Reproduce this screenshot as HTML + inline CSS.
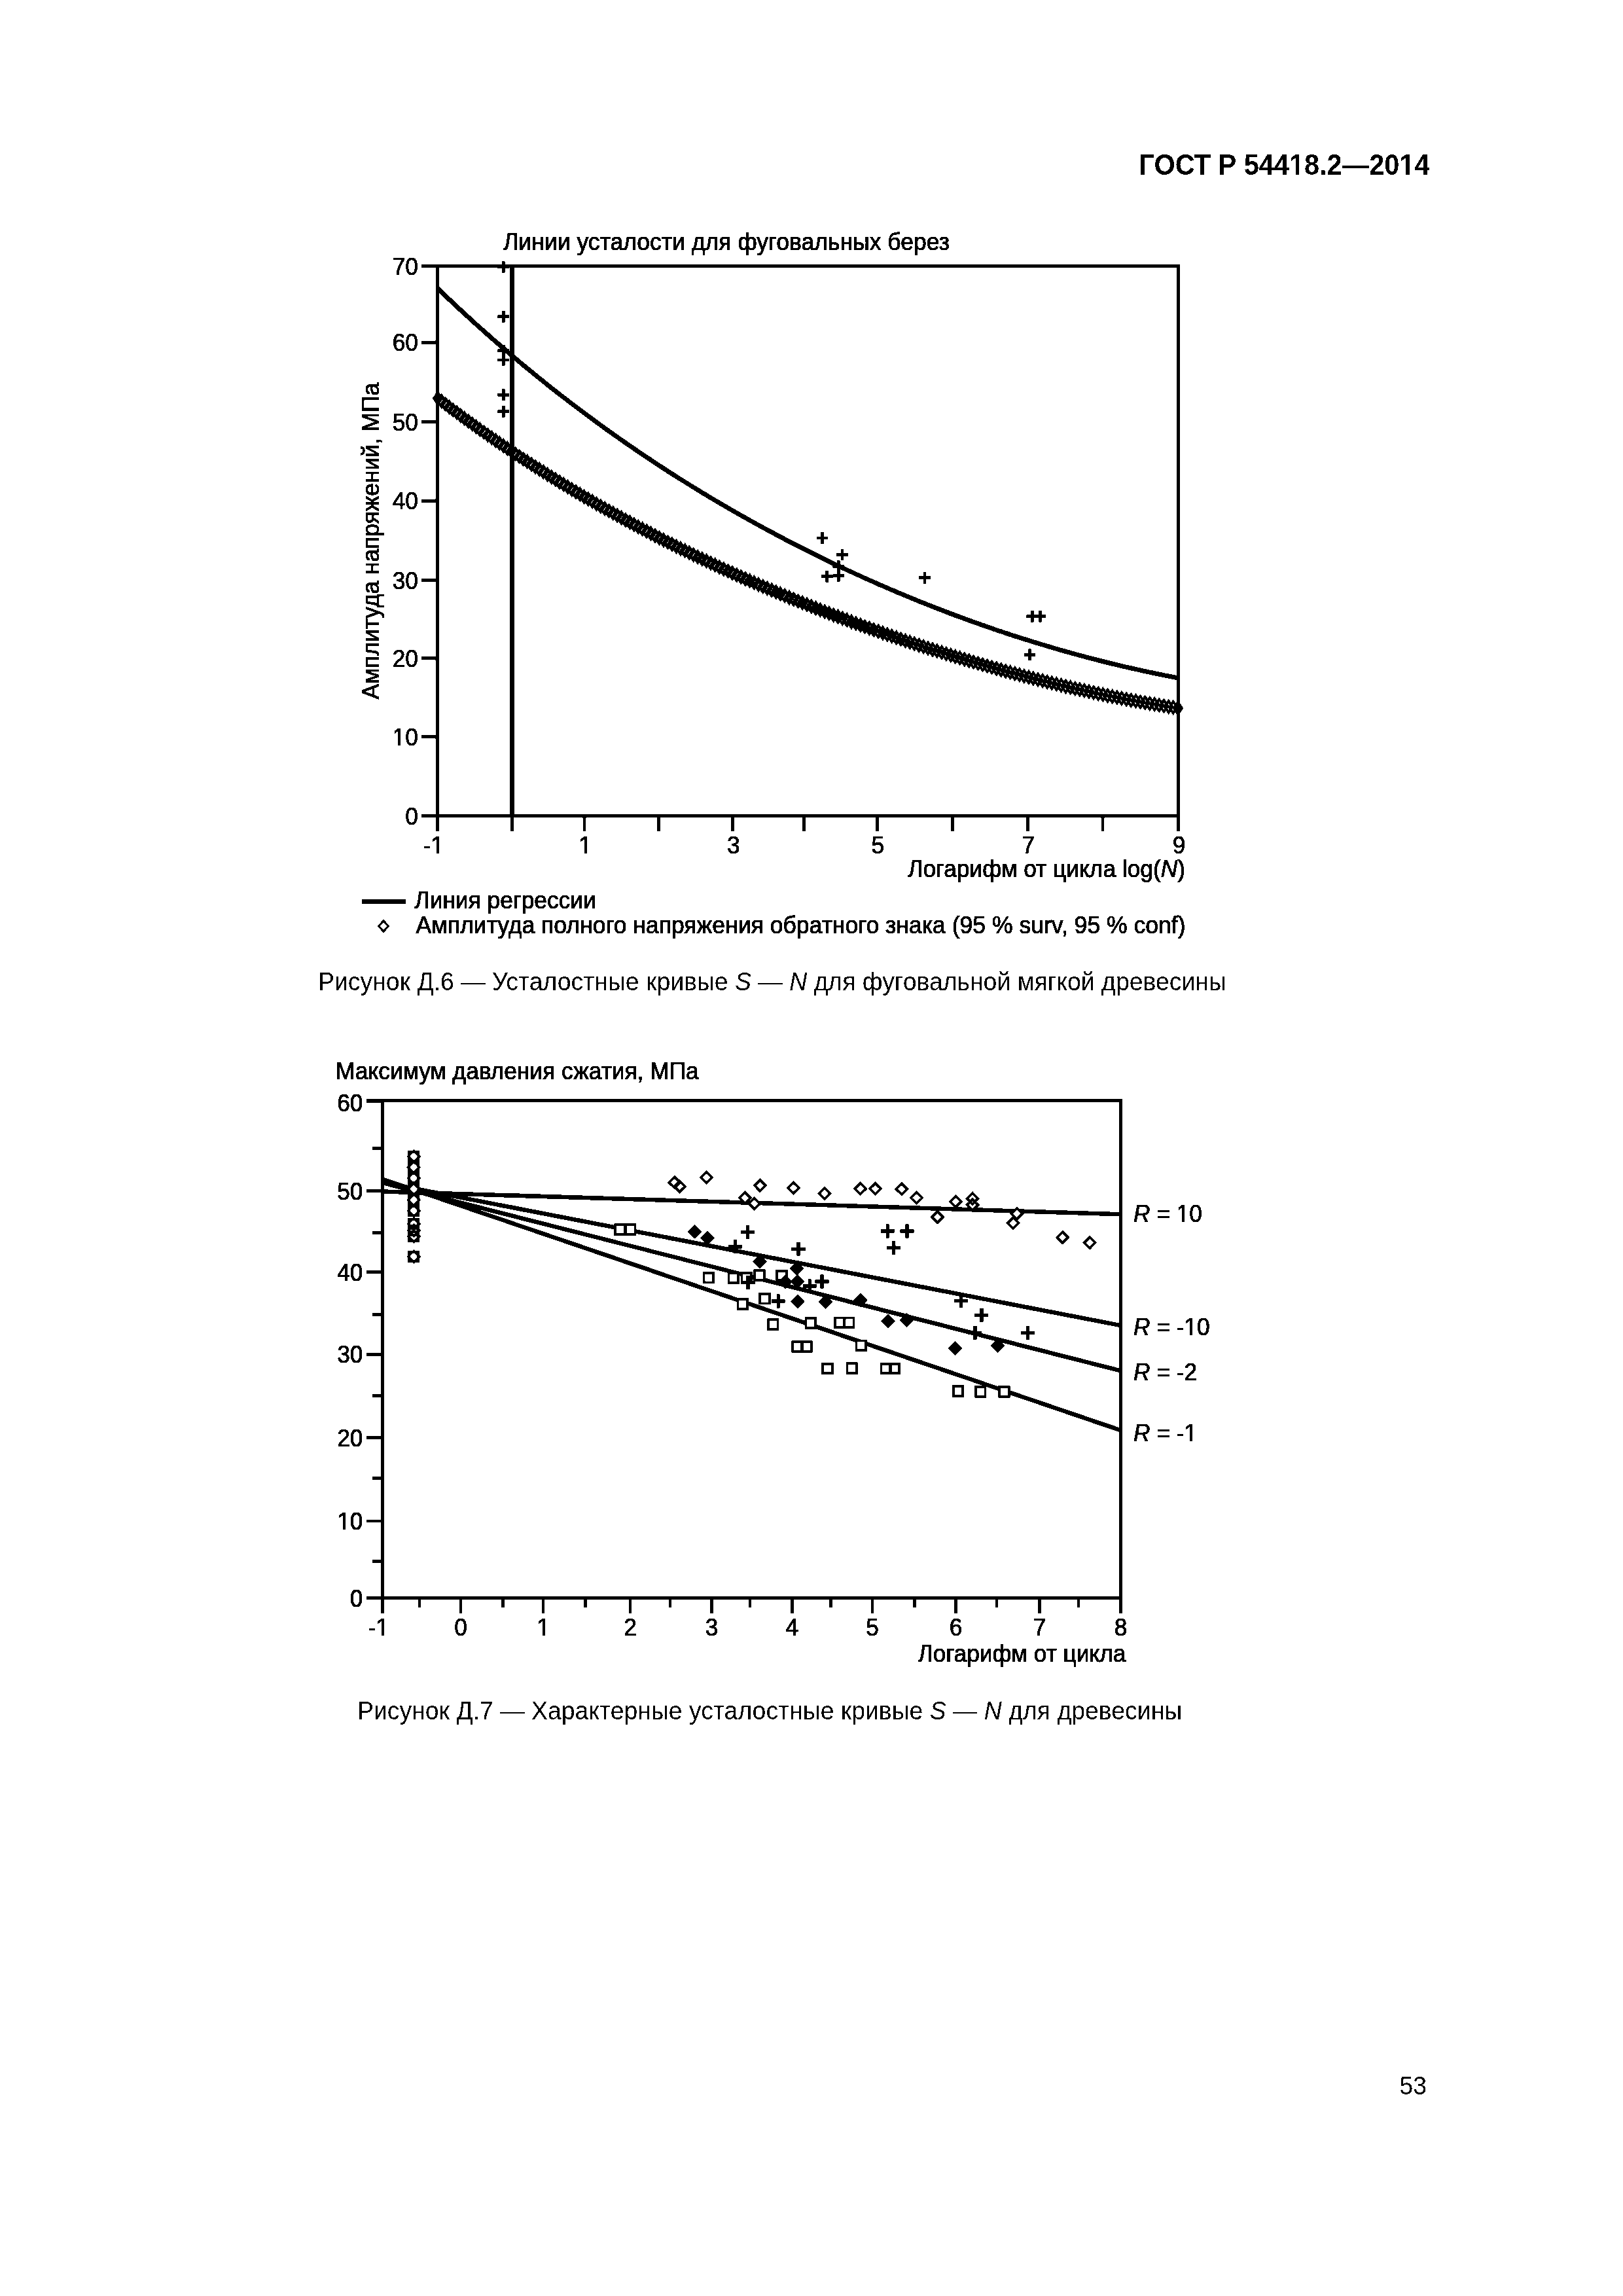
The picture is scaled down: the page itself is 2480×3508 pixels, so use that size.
<!DOCTYPE html>
<html><head><meta charset="utf-8"><style>
html,body{margin:0;padding:0;background:#fff;}
svg{display:block;}
text{font-family:"Liberation Sans", sans-serif;fill:#000;}
</style></head><body>
<svg width="2480" height="3508" viewBox="0 0 2480 3508">
<defs><filter id="bw" x="0" y="0" width="2480" height="3508" filterUnits="userSpaceOnUse" color-interpolation-filters="sRGB"><feComponentTransfer><feFuncR type="discrete" tableValues="0 1"/><feFuncG type="discrete" tableValues="0 1"/><feFuncB type="discrete" tableValues="0 1"/></feComponentTransfer></filter></defs>
<g filter="url(#bw)">
<rect width="2480" height="3508" fill="#fff"/>
<text transform="translate(2184.5,267.0) scale(1,1.07)" font-size="41.5" text-anchor="end" font-weight="bold" >ГОСТ Р 54418.2—2014</text><g transform="translate(2184.5,267.0) scale(1,1.07)"><rect x="-212.45" y="-4.74" width="7.52" height="5.24" fill="#fff"/><rect x="-199.14" y="-4.74" width="7.00" height="5.24" fill="#fff"/><rect x="-44.06" y="-4.74" width="7.52" height="5.24" fill="#fff"/><rect x="-30.74" y="-4.74" width="7.00" height="5.24" fill="#fff"/></g>
<g stroke="#000" stroke-linecap="butt" fill="none">
<line x1="668.2" y1="404.0" x2="668.2" y2="1270.0" stroke-width="5"/>
<line x1="1800.5" y1="404.0" x2="1800.5" y2="1270.0" stroke-width="4.6"/>
<line x1="644.0" y1="406.5" x2="1802.8" y2="406.5" stroke-width="5"/>
<line x1="644.0" y1="1246.8" x2="1802.8" y2="1246.8" stroke-width="5"/>
<line x1="644.0" y1="406.5" x2="668.2" y2="406.5" stroke-width="5"/>
<line x1="644.0" y1="523.1" x2="668.2" y2="523.1" stroke-width="5"/>
<line x1="644.0" y1="644.6" x2="668.2" y2="644.6" stroke-width="5"/>
<line x1="644.0" y1="765.1" x2="668.2" y2="765.1" stroke-width="5"/>
<line x1="644.0" y1="886.6" x2="668.2" y2="886.6" stroke-width="5"/>
<line x1="644.0" y1="1005.8" x2="668.2" y2="1005.8" stroke-width="5"/>
<line x1="644.0" y1="1125.8" x2="668.2" y2="1125.8" stroke-width="5"/>
<line x1="644.0" y1="1246.3" x2="668.2" y2="1246.3" stroke-width="5"/>
<line x1="782.3" y1="1246.8" x2="782.3" y2="1270.0" stroke-width="5"/>
<line x1="893.0" y1="1246.8" x2="893.0" y2="1270.0" stroke-width="5"/>
<line x1="1006.3" y1="1246.8" x2="1006.3" y2="1270.0" stroke-width="5"/>
<line x1="1119.7" y1="1246.8" x2="1119.7" y2="1270.0" stroke-width="5"/>
<line x1="1228.7" y1="1246.8" x2="1228.7" y2="1270.0" stroke-width="5"/>
<line x1="1340.2" y1="1246.8" x2="1340.2" y2="1270.0" stroke-width="5"/>
<line x1="1455.4" y1="1246.8" x2="1455.4" y2="1270.0" stroke-width="5"/>
<line x1="1570.3" y1="1246.8" x2="1570.3" y2="1270.0" stroke-width="5"/>
<line x1="1685.0" y1="1246.8" x2="1685.0" y2="1270.0" stroke-width="5"/>
<line x1="782.5" y1="406.5" x2="782.5" y2="1246.8" stroke-width="6.5"/>
</g>
<polyline points="669.0,440.9 673.0,444.7 677.0,448.5 681.0,452.3 685.0,456.1 689.0,459.9 693.0,463.7 697.0,467.4 701.0,471.1 705.0,474.9 709.0,478.6 713.0,482.2 717.0,485.9 721.0,489.5 725.0,493.2 729.0,496.8 733.0,500.4 737.0,503.9 741.0,507.5 745.0,511.0 749.0,514.6 753.0,518.1 757.0,521.6 761.0,525.0 765.0,528.5 769.0,531.9 773.0,535.4 777.0,538.8 781.0,542.2 785.0,545.6 789.0,548.9 793.0,552.3 797.0,555.6 801.0,559.0 805.0,562.3 809.0,565.6 813.0,568.8 817.0,572.1 821.0,575.3 825.0,578.6 829.0,581.8 833.0,585.0 837.0,588.2 841.0,591.4 845.0,594.5 849.0,597.7 853.0,600.8 857.0,603.9 861.0,607.0 865.0,610.1 869.0,613.2 873.0,616.2 877.0,619.3 881.0,622.3 885.0,625.3 889.0,628.3 893.0,631.3 897.0,634.3 901.0,637.3 905.0,640.2 909.0,643.2 913.0,646.1 917.0,649.0 921.0,651.9 925.0,654.8 929.0,657.7 933.0,660.5 937.0,663.4 941.0,666.2 945.0,669.0 949.0,671.8 953.0,674.6 957.0,677.4 961.0,680.1 965.0,682.9 969.0,685.6 973.0,688.4 977.0,691.1 981.0,693.8 985.0,696.5 989.0,699.2 993.0,701.8 997.0,704.5 1001.0,707.1 1005.0,709.8 1009.0,712.4 1013.0,715.0 1017.0,717.6 1021.0,720.2 1025.0,722.7 1029.0,725.3 1033.0,727.8 1037.0,730.4 1041.0,732.9 1045.0,735.4 1049.0,737.9 1053.0,740.4 1057.0,742.9 1061.0,745.4 1065.0,747.8 1069.0,750.2 1073.0,752.7 1077.0,755.1 1081.0,757.5 1085.0,759.9 1089.0,762.3 1093.0,764.7 1097.0,767.0 1101.0,769.4 1105.0,771.7 1109.0,774.1 1113.0,776.4 1117.0,778.7 1121.0,781.0 1125.0,783.3 1129.0,785.6 1133.0,787.8 1137.0,790.1 1141.0,792.3 1145.0,794.6 1149.0,796.8 1153.0,799.0 1157.0,801.2 1161.0,803.4 1165.0,805.6 1169.0,807.8 1173.0,809.9 1177.0,812.1 1181.0,814.2 1185.0,816.4 1189.0,818.5 1193.0,820.6 1197.0,822.7 1201.0,824.8 1205.0,826.9 1209.0,829.0 1213.0,831.0 1217.0,833.1 1221.0,835.1 1225.0,837.2 1229.0,839.2 1233.0,841.2 1237.0,843.2 1241.0,845.2 1245.0,847.2 1249.0,849.1 1253.0,851.1 1257.0,853.1 1261.0,855.0 1265.0,856.9 1269.0,858.9 1273.0,860.8 1277.0,862.7 1281.0,864.6 1285.0,866.5 1289.0,868.4 1293.0,870.2 1297.0,872.1 1301.0,873.9 1305.0,875.8 1309.0,877.6 1313.0,879.4 1317.0,881.3 1321.0,883.1 1325.0,884.9 1329.0,886.6 1333.0,888.4 1337.0,890.2 1341.0,892.0 1345.0,893.7 1349.0,895.4 1353.0,897.2 1357.0,898.9 1361.0,900.6 1365.0,902.3 1369.0,904.0 1373.0,905.7 1377.0,907.4 1381.0,909.0 1385.0,910.7 1389.0,912.4 1393.0,914.0 1397.0,915.6 1401.0,917.3 1405.0,918.9 1409.0,920.5 1413.0,922.1 1417.0,923.7 1421.0,925.3 1425.0,926.8 1429.0,928.4 1433.0,929.9 1437.0,931.5 1441.0,933.0 1445.0,934.6 1449.0,936.1 1453.0,937.6 1457.0,939.1 1461.0,940.6 1465.0,942.1 1469.0,943.5 1473.0,945.0 1477.0,946.5 1481.0,947.9 1485.0,949.4 1489.0,950.8 1493.0,952.2 1497.0,953.6 1501.0,955.0 1505.0,956.4 1509.0,957.8 1513.0,959.2 1517.0,960.6 1521.0,962.0 1525.0,963.3 1529.0,964.7 1533.0,966.0 1537.0,967.3 1541.0,968.6 1545.0,970.0 1549.0,971.3 1553.0,972.6 1557.0,973.8 1561.0,975.1 1565.0,976.4 1569.0,977.7 1573.0,978.9 1577.0,980.2 1581.0,981.4 1585.0,982.6 1589.0,983.8 1593.0,985.0 1597.0,986.2 1601.0,987.4 1605.0,988.6 1609.0,989.8 1613.0,991.0 1617.0,992.1 1621.0,993.3 1625.0,994.4 1629.0,995.6 1633.0,996.7 1637.0,997.8 1641.0,998.9 1645.0,1000.0 1649.0,1001.1 1653.0,1002.2 1657.0,1003.2 1661.0,1004.3 1665.0,1005.4 1669.0,1006.4 1673.0,1007.4 1677.0,1008.5 1681.0,1009.5 1685.0,1010.5 1689.0,1011.5 1693.0,1012.5 1697.0,1013.5 1701.0,1014.5 1705.0,1015.4 1709.0,1016.4 1713.0,1017.3 1717.0,1018.3 1721.0,1019.2 1725.0,1020.1 1729.0,1021.0 1733.0,1021.9 1737.0,1022.8 1741.0,1023.7 1745.0,1024.6 1749.0,1025.5 1753.0,1026.3 1757.0,1027.2 1761.0,1028.0 1765.0,1028.9 1769.0,1029.7 1773.0,1030.5 1777.0,1031.3 1781.0,1032.1 1785.0,1032.9 1789.0,1033.7 1793.0,1034.4 1797.0,1035.2 1802.5,1036.2" fill="none" stroke="#000" stroke-width="7" stroke-linejoin="round"/>
<path d="M669.0 599.9L675.0 608.7L669.0 617.5L663.0 608.7ZM674.8 604.3L680.8 613.1L674.8 621.9L668.8 613.1ZM680.6 608.7L686.6 617.5L680.6 626.3L674.6 617.5ZM686.4 613.1L692.4 621.9L686.4 630.7L680.4 621.9ZM692.2 617.5L698.2 626.3L692.2 635.1L686.2 626.3ZM698.1 621.8L704.1 630.6L698.1 639.4L692.1 630.6ZM703.9 626.2L709.9 635.0L703.9 643.8L697.9 635.0ZM709.8 630.5L715.8 639.3L709.8 648.1L703.8 639.3ZM715.7 634.7L721.7 643.5L715.7 652.3L709.7 643.5ZM721.6 639.0L727.6 647.8L721.6 656.6L715.6 647.8ZM727.5 643.3L733.5 652.1L727.5 660.9L721.5 652.1ZM733.4 647.5L739.4 656.3L733.4 665.1L727.4 656.3ZM739.4 651.7L745.4 660.5L739.4 669.3L733.4 660.5ZM745.3 655.9L751.3 664.7L745.3 673.5L739.3 664.7ZM751.3 660.0L757.3 668.8L751.3 677.6L745.3 668.8ZM757.3 664.2L763.3 673.0L757.3 681.8L751.3 673.0ZM763.3 668.3L769.3 677.1L763.3 685.9L757.3 677.1ZM769.3 672.4L775.3 681.2L769.3 690.0L763.3 681.2ZM775.4 676.5L781.4 685.3L775.4 694.1L769.4 685.3ZM781.4 680.5L787.4 689.3L781.4 698.1L775.4 689.3ZM787.5 684.6L793.5 693.4L787.5 702.2L781.5 693.4ZM793.6 688.6L799.6 697.4L793.6 706.2L787.6 697.4ZM799.6 692.6L805.6 701.4L799.6 710.2L793.6 701.4ZM805.7 696.5L811.7 705.3L805.7 714.1L799.7 705.3ZM811.9 700.5L817.9 709.3L811.9 718.1L805.9 709.3ZM818.0 704.4L824.0 713.2L818.0 722.0L812.0 713.2ZM824.1 708.3L830.1 717.1L824.1 725.9L818.1 717.1ZM830.3 712.2L836.3 721.0L830.3 729.8L824.3 721.0ZM836.5 716.1L842.5 724.9L836.5 733.7L830.5 724.9ZM842.6 720.0L848.6 728.8L842.6 737.6L836.6 728.8ZM848.8 723.8L854.8 732.6L848.8 741.4L842.8 732.6ZM855.0 727.6L861.0 736.4L855.0 745.2L849.0 736.4ZM861.3 731.4L867.3 740.2L861.3 749.0L855.3 740.2ZM867.5 735.2L873.5 744.0L867.5 752.8L861.5 744.0ZM873.7 738.9L879.7 747.7L873.7 756.5L867.7 747.7ZM880.0 742.6L886.0 751.4L880.0 760.2L874.0 751.4ZM886.3 746.3L892.3 755.1L886.3 763.9L880.3 755.1ZM892.5 750.0L898.5 758.8L892.5 767.6L886.5 758.8ZM898.8 753.7L904.8 762.5L898.8 771.3L892.8 762.5ZM905.1 757.3L911.1 766.1L905.1 774.9L899.1 766.1ZM911.4 761.0L917.4 769.8L911.4 778.6L905.4 769.8ZM917.8 764.6L923.8 773.4L917.8 782.2L911.8 773.4ZM924.1 768.2L930.1 777.0L924.1 785.8L918.1 777.0ZM930.5 771.7L936.5 780.5L930.5 789.3L924.5 780.5ZM936.8 775.3L942.8 784.1L936.8 792.9L930.8 784.1ZM943.2 778.8L949.2 787.6L943.2 796.4L937.2 787.6ZM949.6 782.3L955.6 791.1L949.6 799.9L943.6 791.1ZM956.0 785.8L962.0 794.6L956.0 803.4L950.0 794.6ZM962.4 789.3L968.4 798.1L962.4 806.9L956.4 798.1ZM968.8 792.7L974.8 801.5L968.8 810.3L962.8 801.5ZM975.2 796.1L981.2 804.9L975.2 813.7L969.2 804.9ZM981.6 799.5L987.6 808.3L981.6 817.1L975.6 808.3ZM988.1 802.9L994.1 811.7L988.1 820.5L982.1 811.7ZM994.6 806.3L1000.6 815.1L994.6 823.9L988.6 815.1ZM1001.0 809.6L1007.0 818.4L1001.0 827.2L995.0 818.4ZM1007.5 813.0L1013.5 821.8L1007.5 830.6L1001.5 821.8ZM1014.0 816.3L1020.0 825.1L1014.0 833.9L1008.0 825.1ZM1020.5 819.6L1026.5 828.4L1020.5 837.2L1014.5 828.4ZM1027.0 822.8L1033.0 831.6L1027.0 840.4L1021.0 831.6ZM1033.5 826.1L1039.5 834.9L1033.5 843.7L1027.5 834.9ZM1040.0 829.3L1046.0 838.1L1040.0 846.9L1034.0 838.1ZM1046.6 832.5L1052.6 841.3L1046.6 850.1L1040.6 841.3ZM1053.1 835.7L1059.1 844.5L1053.1 853.3L1047.1 844.5ZM1059.7 838.9L1065.7 847.7L1059.7 856.5L1053.7 847.7ZM1066.2 842.1L1072.2 850.9L1066.2 859.7L1060.2 850.9ZM1072.8 845.2L1078.8 854.0L1072.8 862.8L1066.8 854.0ZM1079.4 848.3L1085.4 857.1L1079.4 865.9L1073.4 857.1ZM1086.0 851.4L1092.0 860.2L1086.0 869.0L1080.0 860.2ZM1092.6 854.5L1098.6 863.3L1092.6 872.1L1086.6 863.3ZM1099.2 857.6L1105.2 866.4L1099.2 875.2L1093.2 866.4ZM1105.8 860.6L1111.8 869.4L1105.8 878.2L1099.8 869.4ZM1112.4 863.6L1118.4 872.4L1112.4 881.2L1106.4 872.4ZM1119.0 866.6L1125.0 875.4L1119.0 884.2L1113.0 875.4ZM1125.7 869.6L1131.7 878.4L1125.7 887.2L1119.7 878.4ZM1132.3 872.6L1138.3 881.4L1132.3 890.2L1126.3 881.4ZM1139.0 875.6L1145.0 884.4L1139.0 893.2L1133.0 884.4ZM1145.7 878.5L1151.7 887.3L1145.7 896.1L1139.7 887.3ZM1152.3 881.4L1158.3 890.2L1152.3 899.0L1146.3 890.2ZM1159.0 884.3L1165.0 893.1L1159.0 901.9L1153.0 893.1ZM1165.7 887.2L1171.7 896.0L1165.7 904.8L1159.7 896.0ZM1172.4 890.0L1178.4 898.8L1172.4 907.6L1166.4 898.8ZM1179.1 892.9L1185.1 901.7L1179.1 910.5L1173.1 901.7ZM1185.8 895.7L1191.8 904.5L1185.8 913.3L1179.8 904.5ZM1192.5 898.5L1198.5 907.3L1192.5 916.1L1186.5 907.3ZM1199.2 901.3L1205.2 910.1L1199.2 918.9L1193.2 910.1ZM1206.0 904.1L1212.0 912.9L1206.0 921.7L1200.0 912.9ZM1212.7 906.8L1218.7 915.6L1212.7 924.4L1206.7 915.6ZM1219.5 909.6L1225.5 918.4L1219.5 927.2L1213.5 918.4ZM1226.2 912.3L1232.2 921.1L1226.2 929.9L1220.2 921.1ZM1233.0 915.0L1239.0 923.8L1233.0 932.6L1227.0 923.8ZM1239.8 917.7L1245.8 926.5L1239.8 935.3L1233.8 926.5ZM1246.5 920.4L1252.5 929.2L1246.5 938.0L1240.5 929.2ZM1253.3 923.0L1259.3 931.8L1253.3 940.6L1247.3 931.8ZM1260.1 925.6L1266.1 934.4L1260.1 943.2L1254.1 934.4ZM1266.9 928.3L1272.9 937.1L1266.9 945.9L1260.9 937.1ZM1273.7 930.9L1279.7 939.7L1273.7 948.5L1267.7 939.7ZM1280.5 933.4L1286.5 942.2L1280.5 951.0L1274.5 942.2ZM1287.3 936.0L1293.3 944.8L1287.3 953.6L1281.3 944.8ZM1294.2 938.5L1300.2 947.3L1294.2 956.1L1288.2 947.3ZM1301.0 941.1L1307.0 949.9L1301.0 958.7L1295.0 949.9ZM1307.8 943.6L1313.8 952.4L1307.8 961.2L1301.8 952.4ZM1314.7 946.1L1320.7 954.9L1314.7 963.7L1308.7 954.9ZM1321.5 948.6L1327.5 957.4L1321.5 966.2L1315.5 957.4ZM1328.4 951.0L1334.4 959.8L1328.4 968.6L1322.4 959.8ZM1335.2 953.5L1341.2 962.3L1335.2 971.1L1329.2 962.3ZM1342.1 955.9L1348.1 964.7L1342.1 973.5L1336.1 964.7ZM1349.0 958.3L1355.0 967.1L1349.0 975.9L1343.0 967.1ZM1355.8 960.7L1361.8 969.5L1355.8 978.3L1349.8 969.5ZM1362.7 963.0L1368.7 971.8L1362.7 980.6L1356.7 971.8ZM1369.6 965.4L1375.6 974.2L1369.6 983.0L1363.6 974.2ZM1376.5 967.7L1382.5 976.5L1376.5 985.3L1370.5 976.5ZM1383.4 970.1L1389.4 978.9L1383.4 987.7L1377.4 978.9ZM1390.3 972.4L1396.3 981.2L1390.3 990.0L1384.3 981.2ZM1397.2 974.7L1403.2 983.5L1397.2 992.3L1391.2 983.5ZM1404.2 976.9L1410.2 985.7L1404.2 994.5L1398.2 985.7ZM1411.1 979.2L1417.1 988.0L1411.1 996.8L1405.1 988.0ZM1418.0 981.4L1424.0 990.2L1418.0 999.0L1412.0 990.2ZM1425.0 983.6L1431.0 992.4L1425.0 1001.2L1419.0 992.4ZM1431.9 985.8L1437.9 994.6L1431.9 1003.4L1425.9 994.6ZM1438.9 988.0L1444.9 996.8L1438.9 1005.6L1432.9 996.8ZM1445.8 990.2L1451.8 999.0L1445.8 1007.8L1439.8 999.0ZM1452.8 992.3L1458.8 1001.1L1452.8 1009.9L1446.8 1001.1ZM1459.7 994.4L1465.7 1003.2L1459.7 1012.0L1453.7 1003.2ZM1466.7 996.5L1472.7 1005.3L1466.7 1014.1L1460.7 1005.3ZM1473.7 998.6L1479.7 1007.4L1473.7 1016.2L1467.7 1007.4ZM1480.7 1000.7L1486.7 1009.5L1480.7 1018.3L1474.7 1009.5ZM1487.6 1002.8L1493.6 1011.6L1487.6 1020.4L1481.6 1011.6ZM1494.6 1004.8L1500.6 1013.6L1494.6 1022.4L1488.6 1013.6ZM1501.6 1006.8L1507.6 1015.6L1501.6 1024.4L1495.6 1015.6ZM1508.6 1008.8L1514.6 1017.6L1508.6 1026.4L1502.6 1017.6ZM1515.6 1010.8L1521.6 1019.6L1515.6 1028.4L1509.6 1019.6ZM1522.7 1012.7L1528.7 1021.5L1522.7 1030.3L1516.7 1021.5ZM1529.7 1014.7L1535.7 1023.5L1529.7 1032.3L1523.7 1023.5ZM1536.7 1016.6L1542.7 1025.4L1536.7 1034.2L1530.7 1025.4ZM1543.7 1018.5L1549.7 1027.3L1543.7 1036.1L1537.7 1027.3ZM1550.8 1020.4L1556.8 1029.2L1550.8 1038.0L1544.8 1029.2ZM1557.8 1022.3L1563.8 1031.1L1557.8 1039.9L1551.8 1031.1ZM1564.8 1024.1L1570.8 1032.9L1564.8 1041.7L1558.8 1032.9ZM1571.9 1025.9L1577.9 1034.7L1571.9 1043.5L1565.9 1034.7ZM1578.9 1027.8L1584.9 1036.6L1578.9 1045.4L1572.9 1036.6ZM1586.0 1029.5L1592.0 1038.3L1586.0 1047.1L1580.0 1038.3ZM1593.1 1031.3L1599.1 1040.1L1593.1 1048.9L1587.1 1040.1ZM1600.1 1033.1L1606.1 1041.9L1600.1 1050.7L1594.1 1041.9ZM1607.2 1034.8L1613.2 1043.6L1607.2 1052.4L1601.2 1043.6ZM1614.3 1036.5L1620.3 1045.3L1614.3 1054.1L1608.3 1045.3ZM1621.4 1038.2L1627.4 1047.0L1621.4 1055.8L1615.4 1047.0ZM1628.5 1039.9L1634.5 1048.7L1628.5 1057.5L1622.5 1048.7ZM1635.6 1041.5L1641.6 1050.3L1635.6 1059.1L1629.6 1050.3ZM1642.7 1043.1L1648.7 1051.9L1642.7 1060.7L1636.7 1051.9ZM1649.8 1044.7L1655.8 1053.5L1649.8 1062.3L1643.8 1053.5ZM1656.9 1046.3L1662.9 1055.1L1656.9 1063.9L1650.9 1055.1ZM1664.0 1047.9L1670.0 1056.7L1664.0 1065.5L1658.0 1056.7ZM1671.1 1049.4L1677.1 1058.2L1671.1 1067.0L1665.1 1058.2ZM1678.2 1050.9L1684.2 1059.7L1678.2 1068.5L1672.2 1059.7ZM1685.4 1052.4L1691.4 1061.2L1685.4 1070.0L1679.4 1061.2ZM1692.5 1053.9L1698.5 1062.7L1692.5 1071.5L1686.5 1062.7ZM1699.6 1055.4L1705.6 1064.2L1699.6 1073.0L1693.6 1064.2ZM1706.8 1056.8L1712.8 1065.6L1706.8 1074.4L1700.8 1065.6ZM1713.9 1058.2L1719.9 1067.0L1713.9 1075.8L1707.9 1067.0ZM1721.1 1059.6L1727.1 1068.4L1721.1 1077.2L1715.1 1068.4ZM1728.2 1060.9L1734.2 1069.7L1728.2 1078.5L1722.2 1069.7ZM1735.4 1062.3L1741.4 1071.1L1735.4 1079.9L1729.4 1071.1ZM1742.5 1063.6L1748.5 1072.4L1742.5 1081.2L1736.5 1072.4ZM1749.7 1064.8L1755.7 1073.6L1749.7 1082.4L1743.7 1073.6ZM1756.9 1066.1L1762.9 1074.9L1756.9 1083.7L1750.9 1074.9ZM1764.1 1067.3L1770.1 1076.1L1764.1 1084.9L1758.1 1076.1ZM1771.2 1068.5L1777.2 1077.3L1771.2 1086.1L1765.2 1077.3ZM1778.4 1069.7L1784.4 1078.5L1778.4 1087.3L1772.4 1078.5ZM1785.6 1070.9L1791.6 1079.7L1785.6 1088.5L1779.6 1079.7ZM1792.8 1072.0L1798.8 1080.8L1792.8 1089.6L1786.8 1080.8ZM1800.0 1073.1L1806.0 1081.9L1800.0 1090.7L1794.0 1081.9Z" fill="none" stroke="#000" stroke-width="3.9" stroke-linejoin="miter"/>
<path d="M760.5 408.0H778.0M769.2 399.2V416.8M760.5 483.7H778.0M769.2 474.9V492.4M760.5 535.9H778.0M769.2 527.1V544.6M760.5 550.0H778.0M769.2 541.2V558.8M760.5 603.3H778.0M769.2 594.5V612.0M760.5 628.6H778.0M769.2 619.9V637.4M1247.7 822.0H1265.2M1256.4 813.2V830.8M1278.2 847.5H1295.7M1286.9 838.8V856.2M1272.5 865.4H1290.0M1281.3 856.6V874.1M1255.0 880.7H1272.5M1263.8 872.0V889.5M1272.5 879.8H1290.0M1281.3 871.0V888.5M1404.3 882.6H1421.8M1413.1 873.9V891.4M1568.5 941.6H1586.0M1577.3 932.9V950.4M1580.8 941.6H1598.2M1589.5 932.9V950.4M1564.8 1000.1H1582.3M1573.6 991.4V1008.9" stroke="#000" stroke-width="4.6" fill="none"/>
<text transform="translate(639.0,419.7) scale(1,1.07)" font-size="35.3" text-anchor="end" font-weight="normal" stroke="#000" stroke-width="0.9" >70</text>
<text transform="translate(639.0,536.3) scale(1,1.07)" font-size="35.3" text-anchor="end" font-weight="normal" stroke="#000" stroke-width="0.9" >60</text>
<text transform="translate(639.0,657.8) scale(1,1.07)" font-size="35.3" text-anchor="end" font-weight="normal" stroke="#000" stroke-width="0.9" >50</text>
<text transform="translate(639.0,778.3) scale(1,1.07)" font-size="35.3" text-anchor="end" font-weight="normal" stroke="#000" stroke-width="0.9" >40</text>
<text transform="translate(639.0,899.8) scale(1,1.07)" font-size="35.3" text-anchor="end" font-weight="normal" stroke="#000" stroke-width="0.9" >30</text>
<text transform="translate(639.0,1019.0) scale(1,1.07)" font-size="35.3" text-anchor="end" font-weight="normal" stroke="#000" stroke-width="0.9" >20</text>
<text transform="translate(639.0,1139.0) scale(1,1.07)" font-size="35.3" text-anchor="end" font-weight="normal" stroke="#000" stroke-width="0.9" >10</text><g transform="translate(639.0,1139.0) scale(1,1.07)"><rect x="-37.52" y="-3.59" width="6.64" height="4.54" fill="#fff"/><rect x="-26.76" y="-3.59" width="6.36" height="4.54" fill="#fff"/></g>
<text transform="translate(639.0,1259.5) scale(1,1.07)" font-size="35.3" text-anchor="end" font-weight="normal" stroke="#000" stroke-width="0.9" >0</text>
<text transform="translate(662.2,1303.5) scale(1,1.07)" font-size="35.3" text-anchor="middle" font-weight="normal" stroke="#000" stroke-width="0.9" >-1</text><g transform="translate(662.2,1303.5) scale(1,1.07)"><rect x="-2.21" y="-3.59" width="6.64" height="4.54" fill="#fff"/><rect x="8.54" y="-3.59" width="6.36" height="4.54" fill="#fff"/></g>
<text transform="translate(894.0,1303.5) scale(1,1.07)" font-size="35.3" text-anchor="middle" font-weight="normal" stroke="#000" stroke-width="0.9" >1</text><g transform="translate(894.0,1303.5) scale(1,1.07)"><rect x="-8.08" y="-3.59" width="6.64" height="4.54" fill="#fff"/><rect x="2.68" y="-3.59" width="6.36" height="4.54" fill="#fff"/></g>
<text transform="translate(1120.7,1303.5) scale(1,1.07)" font-size="35.3" text-anchor="middle" font-weight="normal" stroke="#000" stroke-width="0.9" >3</text>
<text transform="translate(1341.2,1303.5) scale(1,1.07)" font-size="35.3" text-anchor="middle" font-weight="normal" stroke="#000" stroke-width="0.9" >5</text>
<text transform="translate(1571.3,1303.5) scale(1,1.07)" font-size="35.3" text-anchor="middle" font-weight="normal" stroke="#000" stroke-width="0.9" >7</text>
<text transform="translate(1801.5,1303.5) scale(1,1.07)" font-size="35.3" text-anchor="middle" font-weight="normal" stroke="#000" stroke-width="0.9" >9</text>
<text transform="translate(1811.0,1340.0) scale(1,1.05)" font-size="35.3" text-anchor="end" font-weight="normal" stroke="#000" stroke-width="0.9" >Логарифм от цикла log(<tspan font-style="italic">N</tspan>)</text>
<text transform="translate(769.0,381.7) scale(1,1.05)" font-size="35.56" text-anchor="start" font-weight="normal" stroke="#000" stroke-width="0.9" >Линии усталости для фуговальных берез</text>
<text transform="translate(579,1068.6) rotate(-90) scale(1,1.05)" font-size="35.35" stroke="#000" stroke-width="0.9">Амплитуда напряжений, МПа</text>
<g stroke="#000" fill="none">
<line x1="552.8" y1="1377.3" x2="620.0" y2="1377.3" stroke-width="6.5"/>
<path d="M586 1406.5L593 1415L586 1423.5L579 1415Z" stroke-width="3"/>
</g>
<text transform="translate(633.5,1388.3) scale(1,1.05)" font-size="35.3" text-anchor="start" font-weight="normal" stroke="#000" stroke-width="0.9" >Линия регрессии</text>
<text transform="translate(635.5,1426.0) scale(1,1.05)" font-size="35.55" text-anchor="start" font-weight="normal" stroke="#000" stroke-width="0.9" >Амплитуда полного напряжения обратного знака (95 % surv, 95 % conf)</text>
<text transform="translate(486.0,1513.1) scale(1,1.03)" font-size="37.4" text-anchor="start" font-weight="normal" >Рисунок Д.6 — Усталостные кривые <tspan font-style="italic">S</tspan> — <tspan font-style="italic">N</tspan> для фуговальной мягкой древесины</text>
<g stroke="#000" fill="none">
<line x1="584.5" y1="1679.6" x2="584.5" y2="2465.0" stroke-width="4.8"/>
<line x1="1712.5" y1="1679.6" x2="1712.5" y2="2465.0" stroke-width="4.6"/>
<line x1="560.0" y1="1681.9" x2="1714.8" y2="1681.9" stroke-width="4.6"/>
<line x1="560.0" y1="2441.4" x2="1714.8" y2="2441.4" stroke-width="5"/>
<line x1="560.0" y1="1681.9" x2="584.5" y2="1681.9" stroke-width="5"/>
<line x1="569.0" y1="1754.4" x2="584.5" y2="1754.4" stroke-width="5"/>
<line x1="560.0" y1="1819.5" x2="584.5" y2="1819.5" stroke-width="5"/>
<line x1="569.0" y1="1883.8" x2="584.5" y2="1883.8" stroke-width="5"/>
<line x1="560.0" y1="1943.5" x2="584.5" y2="1943.5" stroke-width="5"/>
<line x1="569.0" y1="2008.4" x2="584.5" y2="2008.4" stroke-width="5"/>
<line x1="560.0" y1="2069.2" x2="584.5" y2="2069.2" stroke-width="5"/>
<line x1="569.0" y1="2132.6" x2="584.5" y2="2132.6" stroke-width="5"/>
<line x1="560.0" y1="2196.9" x2="584.5" y2="2196.9" stroke-width="5"/>
<line x1="569.0" y1="2258.3" x2="584.5" y2="2258.3" stroke-width="5"/>
<line x1="560.0" y1="2324.0" x2="584.5" y2="2324.0" stroke-width="5"/>
<line x1="569.0" y1="2385.5" x2="584.5" y2="2385.5" stroke-width="5"/>
<line x1="560.0" y1="2441.4" x2="584.5" y2="2441.4" stroke-width="5"/>
<line x1="641.0" y1="2441.4" x2="641.0" y2="2456.0" stroke-width="4.5"/>
<line x1="704.0" y1="2441.4" x2="704.0" y2="2465.0" stroke-width="4.5"/>
<line x1="768.4" y1="2441.4" x2="768.4" y2="2456.0" stroke-width="4.5"/>
<line x1="830.2" y1="2441.4" x2="830.2" y2="2465.0" stroke-width="4.5"/>
<line x1="894.5" y1="2441.4" x2="894.5" y2="2456.0" stroke-width="4.5"/>
<line x1="963.1" y1="2441.4" x2="963.1" y2="2465.0" stroke-width="4.5"/>
<line x1="1023.9" y1="2441.4" x2="1023.9" y2="2456.0" stroke-width="4.5"/>
<line x1="1087.5" y1="2441.4" x2="1087.5" y2="2465.0" stroke-width="4.5"/>
<line x1="1146.2" y1="2441.4" x2="1146.2" y2="2456.0" stroke-width="4.5"/>
<line x1="1210.4" y1="2441.4" x2="1210.4" y2="2465.0" stroke-width="4.5"/>
<line x1="1269.4" y1="2441.4" x2="1269.4" y2="2456.0" stroke-width="4.5"/>
<line x1="1333.0" y1="2441.4" x2="1333.0" y2="2465.0" stroke-width="4.5"/>
<line x1="1397.3" y1="2441.4" x2="1397.3" y2="2456.0" stroke-width="4.5"/>
<line x1="1460.6" y1="2441.4" x2="1460.6" y2="2465.0" stroke-width="4.5"/>
<line x1="1523.1" y1="2441.4" x2="1523.1" y2="2456.0" stroke-width="4.5"/>
<line x1="1588.5" y1="2441.4" x2="1588.5" y2="2465.0" stroke-width="4.5"/>
<line x1="1648.2" y1="2441.4" x2="1648.2" y2="2456.0" stroke-width="4.5"/>
</g>
<g stroke="#000" stroke-width="6.5">
<line x1="584.5" y1="1820.4" x2="1712.5" y2="1855.2" stroke-width="6.5"/>
<line x1="584.5" y1="1806.5" x2="1712.5" y2="2025.1" stroke-width="6.5"/>
<line x1="584.5" y1="1807.1" x2="1712.5" y2="2094.4" stroke-width="6.5"/>
<line x1="584.5" y1="1801.5" x2="1712.5" y2="2185.3" stroke-width="6.5"/>
</g>
<path d="M625.0 1759.7H639.4V1774.1H625.0ZM625.0 1776.2H639.4V1790.6H625.0ZM625.0 1792.8H639.4V1807.2H625.0ZM625.0 1809.4H639.4V1823.8H625.0ZM625.0 1826.1H639.4V1840.5H625.0ZM625.0 1842.7H639.4V1857.1H625.0ZM625.0 1862.8H639.4V1877.2H625.0ZM625.0 1872.9H639.4V1887.3H625.0ZM625.0 1881.7H639.4V1896.1H625.0ZM625.0 1912.7H639.4V1927.1H625.0ZM632.2 1758.3L640.8 1766.9L632.2 1775.5L623.6 1766.9ZM632.2 1774.8L640.8 1783.4L632.2 1792.0L623.6 1783.4ZM632.2 1791.4L640.8 1800.0L632.2 1808.6L623.6 1800.0ZM632.2 1808.0L640.8 1816.6L632.2 1825.2L623.6 1816.6ZM632.2 1824.7L640.8 1833.3L632.2 1841.9L623.6 1833.3ZM632.2 1841.3L640.8 1849.9L632.2 1858.5L623.6 1849.9ZM632.2 1861.4L640.8 1870.0L632.2 1878.6L623.6 1870.0ZM632.2 1871.5L640.8 1880.1L632.2 1888.7L623.6 1880.1ZM632.2 1880.3L640.8 1888.9L632.2 1897.5L623.6 1888.9ZM632.2 1911.3L640.8 1919.9L632.2 1928.5L623.6 1919.9ZM1030.8 1798.3L1039.2 1806.7L1030.8 1815.1L1022.4 1806.7ZM1038.5 1804.4L1046.9 1812.8L1038.5 1821.2L1030.1 1812.8ZM1079.6 1790.6L1088.0 1799.0L1079.6 1807.4L1071.2 1799.0ZM1138.3 1821.7L1146.7 1830.1L1138.3 1838.5L1129.9 1830.1ZM1152.8 1830.5L1161.2 1838.9L1152.8 1847.3L1144.4 1838.9ZM1161.4 1802.9L1169.8 1811.3L1161.4 1819.7L1153.0 1811.3ZM1212.3 1806.6L1220.7 1815.0L1212.3 1823.4L1203.9 1815.0ZM1260.0 1815.2L1268.4 1823.6L1260.0 1832.0L1251.6 1823.6ZM1314.7 1807.8L1323.1 1816.2L1314.7 1824.6L1306.3 1816.2ZM1337.5 1807.8L1345.9 1816.2L1337.5 1824.6L1329.1 1816.2ZM1377.8 1808.3L1386.2 1816.7L1377.8 1825.1L1369.4 1816.7ZM1400.5 1821.7L1408.9 1830.1L1400.5 1838.5L1392.1 1830.1ZM1432.5 1851.0L1440.9 1859.4L1432.5 1867.8L1424.1 1859.4ZM1460.3 1827.5L1468.7 1835.9L1460.3 1844.3L1451.9 1835.9ZM1486.1 1822.8L1494.5 1831.2L1486.1 1839.6L1477.7 1831.2ZM1486.1 1832.5L1494.5 1840.9L1486.1 1849.3L1477.7 1840.9ZM1548.2 1860.2L1556.6 1868.6L1548.2 1877.0L1539.8 1868.6ZM1553.9 1845.9L1562.3 1854.3L1553.9 1862.7L1545.5 1854.3ZM1623.6 1882.2L1632.0 1890.6L1623.6 1899.0L1615.2 1890.6ZM1665.3 1890.2L1673.7 1898.6L1665.3 1907.0L1656.9 1898.6ZM939.9 1871.3H954.5V1885.9H939.9ZM956.0 1871.3H970.6V1885.9H956.0ZM1075.6 1944.9H1090.2V1959.5H1075.6ZM1113.6 1945.2H1128.2V1959.8H1113.6ZM1133.6 1945.2H1148.2V1959.8H1133.6ZM1153.2 1941.4H1167.8V1956.0H1153.2ZM1187.1 1941.6H1201.7V1956.2H1187.1ZM1161.3 1976.9H1175.9V1991.5H1161.3ZM1127.6 1985.1H1142.2V1999.7H1127.6ZM1174.0 2016.3H1188.6V2030.9H1174.0ZM1231.6 2014.3H1246.2V2028.9H1231.6ZM1276.0 2013.5H1290.6V2028.1H1276.0ZM1289.9 2013.5H1304.5V2028.1H1289.9ZM1211.3 2050.1H1225.9V2064.7H1211.3ZM1225.2 2050.1H1239.8V2064.7H1225.2ZM1308.4 2048.5H1323.0V2063.1H1308.4ZM1257.2 2083.6H1271.8V2098.2H1257.2ZM1294.5 2083.3H1309.1V2097.9H1294.5ZM1346.6 2083.7H1361.2V2098.3H1346.6ZM1359.6 2083.7H1374.2V2098.3H1359.6ZM1456.7 2118.3H1471.3V2132.9H1456.7ZM1491.0 2119.1H1505.6V2133.7H1491.0ZM1527.1 2119.1H1541.7V2133.7H1527.1Z" fill="#fff" stroke="none"/>
<path d="M625.0 1759.7H639.4V1774.1H625.0ZM625.0 1776.2H639.4V1790.6H625.0ZM625.0 1792.8H639.4V1807.2H625.0ZM625.0 1809.4H639.4V1823.8H625.0ZM625.0 1826.1H639.4V1840.5H625.0ZM625.0 1842.7H639.4V1857.1H625.0ZM625.0 1862.8H639.4V1877.2H625.0ZM625.0 1872.9H639.4V1887.3H625.0ZM625.0 1881.7H639.4V1896.1H625.0ZM625.0 1912.7H639.4V1927.1H625.0Z" fill="none" stroke="#000" stroke-width="3.7"/>
<path d="M632.2 1758.3L640.8 1766.9L632.2 1775.5L623.6 1766.9ZM632.2 1774.8L640.8 1783.4L632.2 1792.0L623.6 1783.4ZM632.2 1791.4L640.8 1800.0L632.2 1808.6L623.6 1800.0ZM632.2 1808.0L640.8 1816.6L632.2 1825.2L623.6 1816.6ZM632.2 1824.7L640.8 1833.3L632.2 1841.9L623.6 1833.3ZM632.2 1841.3L640.8 1849.9L632.2 1858.5L623.6 1849.9ZM632.2 1861.4L640.8 1870.0L632.2 1878.6L623.6 1870.0ZM632.2 1871.5L640.8 1880.1L632.2 1888.7L623.6 1880.1ZM632.2 1880.3L640.8 1888.9L632.2 1897.5L623.6 1888.9ZM632.2 1911.3L640.8 1919.9L632.2 1928.5L623.6 1919.9Z" fill="none" stroke="#000" stroke-width="3.4"/>
<path d="M1030.8 1798.3L1039.2 1806.7L1030.8 1815.1L1022.4 1806.7ZM1038.5 1804.4L1046.9 1812.8L1038.5 1821.2L1030.1 1812.8ZM1079.6 1790.6L1088.0 1799.0L1079.6 1807.4L1071.2 1799.0ZM1138.3 1821.7L1146.7 1830.1L1138.3 1838.5L1129.9 1830.1ZM1152.8 1830.5L1161.2 1838.9L1152.8 1847.3L1144.4 1838.9ZM1161.4 1802.9L1169.8 1811.3L1161.4 1819.7L1153.0 1811.3ZM1212.3 1806.6L1220.7 1815.0L1212.3 1823.4L1203.9 1815.0ZM1260.0 1815.2L1268.4 1823.6L1260.0 1832.0L1251.6 1823.6ZM1314.7 1807.8L1323.1 1816.2L1314.7 1824.6L1306.3 1816.2ZM1337.5 1807.8L1345.9 1816.2L1337.5 1824.6L1329.1 1816.2ZM1377.8 1808.3L1386.2 1816.7L1377.8 1825.1L1369.4 1816.7ZM1400.5 1821.7L1408.9 1830.1L1400.5 1838.5L1392.1 1830.1ZM1432.5 1851.0L1440.9 1859.4L1432.5 1867.8L1424.1 1859.4ZM1460.3 1827.5L1468.7 1835.9L1460.3 1844.3L1451.9 1835.9ZM1486.1 1822.8L1494.5 1831.2L1486.1 1839.6L1477.7 1831.2ZM1486.1 1832.5L1494.5 1840.9L1486.1 1849.3L1477.7 1840.9ZM1548.2 1860.2L1556.6 1868.6L1548.2 1877.0L1539.8 1868.6ZM1553.9 1845.9L1562.3 1854.3L1553.9 1862.7L1545.5 1854.3ZM1623.6 1882.2L1632.0 1890.6L1623.6 1899.0L1615.2 1890.6ZM1665.3 1890.2L1673.7 1898.6L1665.3 1907.0L1656.9 1898.6Z" fill="none" stroke="#000" stroke-width="3.8"/>
<path d="M939.9 1871.3H954.5V1885.9H939.9ZM956.0 1871.3H970.6V1885.9H956.0ZM1075.6 1944.9H1090.2V1959.5H1075.6ZM1113.6 1945.2H1128.2V1959.8H1113.6ZM1133.6 1945.2H1148.2V1959.8H1133.6ZM1153.2 1941.4H1167.8V1956.0H1153.2ZM1187.1 1941.6H1201.7V1956.2H1187.1ZM1161.3 1976.9H1175.9V1991.5H1161.3ZM1127.6 1985.1H1142.2V1999.7H1127.6ZM1174.0 2016.3H1188.6V2030.9H1174.0ZM1231.6 2014.3H1246.2V2028.9H1231.6ZM1276.0 2013.5H1290.6V2028.1H1276.0ZM1289.9 2013.5H1304.5V2028.1H1289.9ZM1211.3 2050.1H1225.9V2064.7H1211.3ZM1225.2 2050.1H1239.8V2064.7H1225.2ZM1308.4 2048.5H1323.0V2063.1H1308.4ZM1257.2 2083.6H1271.8V2098.2H1257.2ZM1294.5 2083.3H1309.1V2097.9H1294.5ZM1346.6 2083.7H1361.2V2098.3H1346.6ZM1359.6 2083.7H1374.2V2098.3H1359.6ZM1456.7 2118.3H1471.3V2132.9H1456.7ZM1491.0 2119.1H1505.6V2133.7H1491.0ZM1527.1 2119.1H1541.7V2133.7H1527.1Z" fill="none" stroke="#000" stroke-width="3.6"/>
<path d="M1061.3 1870.7L1072.3 1881.7L1061.3 1892.7L1050.3 1881.7ZM1080.9 1880.7L1091.9 1891.7L1080.9 1902.7L1069.9 1891.7ZM1160.9 1916.3L1171.9 1927.3L1160.9 1938.3L1149.9 1927.3ZM1217.9 1927.1L1228.9 1938.1L1217.9 1949.1L1206.9 1938.1ZM1200.0 1947.4L1211.0 1958.4L1200.0 1969.4L1189.0 1958.4ZM1218.4 1946.7L1229.4 1957.7L1218.4 1968.7L1207.4 1957.7ZM1218.8 1977.8L1229.8 1988.8L1218.8 1999.8L1207.8 1988.8ZM1261.6 1978.3L1272.6 1989.3L1261.6 2000.3L1250.6 1989.3ZM1314.8 1975.7L1325.8 1986.7L1314.8 1997.7L1303.8 1986.7ZM1356.9 2007.3L1367.9 2018.3L1356.9 2029.3L1345.9 2018.3ZM1385.7 2006.0L1396.7 2017.0L1385.7 2028.0L1374.7 2017.0ZM1459.7 2049.1L1470.7 2060.1L1459.7 2071.1L1448.7 2060.1ZM1524.4 2045.3L1535.4 2056.3L1524.4 2067.3L1513.4 2056.3Z" fill="#000" stroke="none"/>
<path d="M1132.0 1882.5H1153.0M1142.5 1872.0V1893.0M1112.7 1904.8H1133.7M1123.2 1894.3V1915.3M1209.5 1908.3H1230.5M1220.0 1897.8V1918.8M1132.5 1959.5H1153.5M1143.0 1949.0V1970.0M1178.8 1988.0H1199.8M1189.3 1977.5V1998.5M1226.7 1964.9H1247.7M1237.2 1954.4V1975.4M1245.5 1958.0H1266.5M1256.0 1947.5V1968.5M1345.8 1880.9H1366.8M1356.3 1870.4V1891.4M1375.5 1880.9H1396.5M1386.0 1870.4V1891.4M1355.3 1906.3H1376.3M1365.8 1895.8V1916.8M1457.8 1987.3H1478.8M1468.3 1976.8V1997.8M1489.4 2009.3H1510.4M1499.9 1998.8V2019.8M1479.4 2036.3H1500.4M1489.9 2025.8V2046.8M1559.9 2036.4H1580.9M1570.4 2025.9V2046.9" fill="none" stroke="#000" stroke-width="5.2"/>
<text transform="translate(554.5,1697.6) scale(1,1.07)" font-size="35.3" text-anchor="end" font-weight="normal" stroke="#000" stroke-width="0.9" >60</text>
<text transform="translate(554.5,1832.7) scale(1,1.07)" font-size="35.3" text-anchor="end" font-weight="normal" stroke="#000" stroke-width="0.9" >50</text>
<text transform="translate(554.5,1956.7) scale(1,1.07)" font-size="35.3" text-anchor="end" font-weight="normal" stroke="#000" stroke-width="0.9" >40</text>
<text transform="translate(554.5,2082.4) scale(1,1.07)" font-size="35.3" text-anchor="end" font-weight="normal" stroke="#000" stroke-width="0.9" >30</text>
<text transform="translate(554.5,2210.1) scale(1,1.07)" font-size="35.3" text-anchor="end" font-weight="normal" stroke="#000" stroke-width="0.9" >20</text>
<text transform="translate(554.5,2337.2) scale(1,1.07)" font-size="35.3" text-anchor="end" font-weight="normal" stroke="#000" stroke-width="0.9" >10</text><g transform="translate(554.5,2337.2) scale(1,1.07)"><rect x="-37.52" y="-3.59" width="6.64" height="4.54" fill="#fff"/><rect x="-26.76" y="-3.59" width="6.36" height="4.54" fill="#fff"/></g>
<text transform="translate(554.5,2454.6) scale(1,1.07)" font-size="35.3" text-anchor="end" font-weight="normal" stroke="#000" stroke-width="0.9" >0</text>
<text transform="translate(578.5,2498.8) scale(1,1.07)" font-size="35.3" text-anchor="middle" font-weight="normal" stroke="#000" stroke-width="0.9" >-1</text><g transform="translate(578.5,2498.8) scale(1,1.07)"><rect x="-2.21" y="-3.59" width="6.64" height="4.54" fill="#fff"/><rect x="8.54" y="-3.59" width="6.36" height="4.54" fill="#fff"/></g>
<text transform="translate(704.0,2498.8) scale(1,1.07)" font-size="35.3" text-anchor="middle" font-weight="normal" stroke="#000" stroke-width="0.9" >0</text>
<text transform="translate(830.2,2498.8) scale(1,1.07)" font-size="35.3" text-anchor="middle" font-weight="normal" stroke="#000" stroke-width="0.9" >1</text><g transform="translate(830.2,2498.8) scale(1,1.07)"><rect x="-8.08" y="-3.59" width="6.64" height="4.54" fill="#fff"/><rect x="2.68" y="-3.59" width="6.36" height="4.54" fill="#fff"/></g>
<text transform="translate(963.1,2498.8) scale(1,1.07)" font-size="35.3" text-anchor="middle" font-weight="normal" stroke="#000" stroke-width="0.9" >2</text>
<text transform="translate(1087.5,2498.8) scale(1,1.07)" font-size="35.3" text-anchor="middle" font-weight="normal" stroke="#000" stroke-width="0.9" >3</text>
<text transform="translate(1210.4,2498.8) scale(1,1.07)" font-size="35.3" text-anchor="middle" font-weight="normal" stroke="#000" stroke-width="0.9" >4</text>
<text transform="translate(1333.0,2498.8) scale(1,1.07)" font-size="35.3" text-anchor="middle" font-weight="normal" stroke="#000" stroke-width="0.9" >5</text>
<text transform="translate(1460.6,2498.8) scale(1,1.07)" font-size="35.3" text-anchor="middle" font-weight="normal" stroke="#000" stroke-width="0.9" >6</text>
<text transform="translate(1588.5,2498.8) scale(1,1.07)" font-size="35.3" text-anchor="middle" font-weight="normal" stroke="#000" stroke-width="0.9" >7</text>
<text transform="translate(1712.5,2498.8) scale(1,1.07)" font-size="35.3" text-anchor="middle" font-weight="normal" stroke="#000" stroke-width="0.9" >8</text>
<text transform="translate(1720.5,2538.7) scale(1,1.05)" font-size="35.3" text-anchor="end" font-weight="normal" stroke="#000" stroke-width="0.9" >Логарифм от цикла</text>
<text transform="translate(513.0,1648.8) scale(1,1.05)" font-size="35.3" text-anchor="start" font-weight="normal" stroke="#000" stroke-width="0.9" >Максимум давления сжатия, МПа</text>
<text transform="translate(1732.0,1866.7) scale(1,1.05)" font-size="35.3" text-anchor="start" font-weight="normal" stroke="#000" stroke-width="0.9" ><tspan font-style="italic">R</tspan> = 10</text><g transform="translate(1732.0,1866.7) scale(1,1.05)"><rect x="67.45" y="-3.59" width="6.64" height="4.54" fill="#fff"/><rect x="78.21" y="-3.59" width="6.36" height="4.54" fill="#fff"/></g>
<text transform="translate(1732.0,2039.9) scale(1,1.05)" font-size="35.3" text-anchor="start" font-weight="normal" stroke="#000" stroke-width="0.9" ><tspan font-style="italic">R</tspan> = -10</text><g transform="translate(1732.0,2039.9) scale(1,1.05)"><rect x="79.20" y="-3.59" width="6.64" height="4.54" fill="#fff"/><rect x="89.96" y="-3.59" width="6.36" height="4.54" fill="#fff"/></g>
<text transform="translate(1732.0,2108.6) scale(1,1.05)" font-size="35.3" text-anchor="start" font-weight="normal" stroke="#000" stroke-width="0.9" ><tspan font-style="italic">R</tspan> = -2</text>
<text transform="translate(1732.0,2201.7) scale(1,1.05)" font-size="35.3" text-anchor="start" font-weight="normal" stroke="#000" stroke-width="0.9" ><tspan font-style="italic">R</tspan> = -1</text><g transform="translate(1732.0,2201.7) scale(1,1.05)"><rect x="79.20" y="-3.59" width="6.64" height="4.54" fill="#fff"/><rect x="89.96" y="-3.59" width="6.36" height="4.54" fill="#fff"/></g>
<text transform="translate(546.0,2627.0) scale(1,1.03)" font-size="37.38" text-anchor="start" font-weight="normal" >Рисунок Д.7 — Характерные усталостные кривые <tspan font-style="italic">S</tspan> — <tspan font-style="italic">N</tspan> для древесины</text>
<text transform="translate(2180.0,3199.9) scale(1,1.04)" font-size="37.4" text-anchor="end" font-weight="normal" >53</text>
</g>
</svg></body></html>
